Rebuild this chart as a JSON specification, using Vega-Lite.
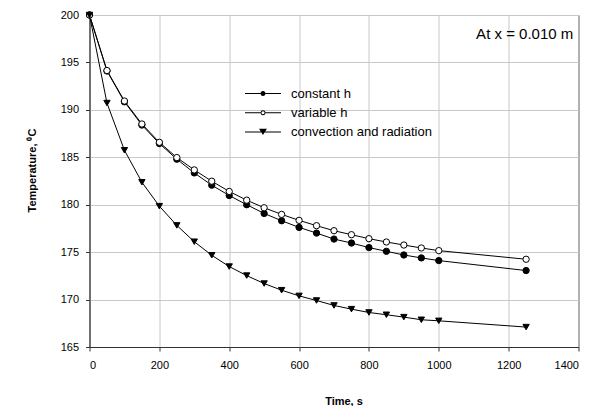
{
  "$schema": "https://vega.github.io/schema/vega-lite/v6.json",
  "width": 489,
  "height": 332,
  "autosize": {"type": "none"},
  "padding": {"left": 89.5, "top": 15, "right": 22.5, "bottom": 59},
  "background": "white",
  "config": {
    "font": "Liberation Sans",
    "view": {"stroke": "#333333", "strokeWidth": 1},
    "axis": {
      "labelFont": "Liberation Sans",
      "labelFontSize": 11,
      "labelColor": "#000000",
      "titleFont": "Liberation Sans",
      "titleFontSize": 11,
      "titleFontWeight": "bold",
      "titleColor": "#000000",
      "domainColor": "#333333",
      "tickColor": "#333333",
      "tickSize": 4,
      "gridColor": "#c8c8c8",
      "gridWidth": 1
    }
  },
  "data": {
    "values": [
      {"t": 0, "T": 200, "series": "constant h"},
      {"t": 50, "T": 194.1, "series": "constant h"},
      {"t": 100, "T": 190.85, "series": "constant h"},
      {"t": 150, "T": 188.4, "series": "constant h"},
      {"t": 200, "T": 186.45, "series": "constant h"},
      {"t": 250, "T": 184.8, "series": "constant h"},
      {"t": 300, "T": 183.35, "series": "constant h"},
      {"t": 350, "T": 182.06, "series": "constant h"},
      {"t": 400, "T": 180.97, "series": "constant h"},
      {"t": 450, "T": 180.0, "series": "constant h"},
      {"t": 500, "T": 179.08, "series": "constant h"},
      {"t": 550, "T": 178.31, "series": "constant h"},
      {"t": 600, "T": 177.61, "series": "constant h"},
      {"t": 650, "T": 177.01, "series": "constant h"},
      {"t": 700, "T": 176.38, "series": "constant h"},
      {"t": 750, "T": 175.96, "series": "constant h"},
      {"t": 800, "T": 175.48, "series": "constant h"},
      {"t": 850, "T": 175.09, "series": "constant h"},
      {"t": 900, "T": 174.7, "series": "constant h"},
      {"t": 950, "T": 174.39, "series": "constant h"},
      {"t": 1000, "T": 174.11, "series": "constant h"},
      {"t": 1250, "T": 173.06, "series": "constant h"},
      {"t": 0, "T": 200, "series": "variable h"},
      {"t": 50, "T": 194.15, "series": "variable h"},
      {"t": 100, "T": 190.93, "series": "variable h"},
      {"t": 150, "T": 188.51, "series": "variable h"},
      {"t": 200, "T": 186.58, "series": "variable h"},
      {"t": 250, "T": 184.97, "series": "variable h"},
      {"t": 300, "T": 183.67, "series": "variable h"},
      {"t": 350, "T": 182.48, "series": "variable h"},
      {"t": 400, "T": 181.4, "series": "variable h"},
      {"t": 450, "T": 180.48, "series": "variable h"},
      {"t": 500, "T": 179.68, "series": "variable h"},
      {"t": 550, "T": 178.98, "series": "variable h"},
      {"t": 600, "T": 178.35, "series": "variable h"},
      {"t": 650, "T": 177.79, "series": "variable h"},
      {"t": 700, "T": 177.26, "series": "variable h"},
      {"t": 750, "T": 176.84, "series": "variable h"},
      {"t": 800, "T": 176.42, "series": "variable h"},
      {"t": 850, "T": 176.07, "series": "variable h"},
      {"t": 900, "T": 175.75, "series": "variable h"},
      {"t": 950, "T": 175.44, "series": "variable h"},
      {"t": 1000, "T": 175.16, "series": "variable h"},
      {"t": 1250, "T": 174.25, "series": "variable h"},
      {"t": 0, "T": 200, "series": "convection and radiation"},
      {"t": 50, "T": 190.72, "series": "convection and radiation"},
      {"t": 100, "T": 185.74, "series": "convection and radiation"},
      {"t": 150, "T": 182.37, "series": "convection and radiation"},
      {"t": 200, "T": 179.85, "series": "convection and radiation"},
      {"t": 250, "T": 177.82, "series": "convection and radiation"},
      {"t": 300, "T": 176.1, "series": "convection and radiation"},
      {"t": 350, "T": 174.67, "series": "convection and radiation"},
      {"t": 400, "T": 173.48, "series": "convection and radiation"},
      {"t": 450, "T": 172.53, "series": "convection and radiation"},
      {"t": 500, "T": 171.69, "series": "convection and radiation"},
      {"t": 550, "T": 170.99, "series": "convection and radiation"},
      {"t": 600, "T": 170.39, "series": "convection and radiation"},
      {"t": 650, "T": 169.9, "series": "convection and radiation"},
      {"t": 700, "T": 169.38, "series": "convection and radiation"},
      {"t": 750, "T": 168.99, "series": "convection and radiation"},
      {"t": 800, "T": 168.64, "series": "convection and radiation"},
      {"t": 850, "T": 168.4, "series": "convection and radiation"},
      {"t": 900, "T": 168.15, "series": "convection and radiation"},
      {"t": 950, "T": 167.87, "series": "convection and radiation"},
      {"t": 1000, "T": 167.76, "series": "convection and radiation"},
      {"t": 1250, "T": 167.1, "series": "convection and radiation"}
    ]
  },
  "encoding": {
    "x": {
      "field": "t",
      "type": "quantitative",
      "scale": {"domain": [0, 1400], "nice": false},
      "axis": {
        "values": [0, 200, 400, 600, 800, 1000, 1200, 1400],
        "format": "d",
        "title": "Time, s",
        "labelPadding": 8,
        "titleY": 57,
        "titleX": 254,
        "titleAnchor": "middle",
        "titleAlign": "center",
        "titleBaseline": "alphabetic"
      }
    },
    "y": {
      "field": "T",
      "type": "quantitative",
      "scale": {"domain": [165, 200], "nice": false, "zero": false},
      "axis": {
        "values": [165, 170, 175, 180, 185, 190, 195, 200],
        "format": "d",
        "title": "Temperature, ⁰C",
        "labelPadding": 7,
        "titleX": -54,
        "titleY": 155,
        "titleAngle": 270,
        "titleAlign": "center",
        "titleBaseline": "alphabetic"
      }
    }
  },
  "resolve": {"scale": {"shape": "independent"}, "legend": {"shape": "independent"}},
  "layer": [
    {
      "mark": {"type": "line", "color": "#000000", "strokeWidth": 1},
      "encoding": {"detail": {"field": "series"}}
    },
    {
      "mark": {"type": "point", "stroke": "#000000", "strokeWidth": 1, "opacity": 1, "filled": false},
      "encoding": {
        "shape": {
          "field": "series",
          "type": "nominal",
          "scale": {
            "domain": ["constant h", "variable h", "convection and radiation"],
            "range": ["circle", "circle", "triangle-down"]
          },
          "legend": null
        },
        "fill": {
          "field": "series",
          "type": "nominal",
          "scale": {
            "domain": ["constant h", "variable h", "convection and radiation"],
            "range": ["#000000", "#ffffff", "#000000"]
          },
          "legend": null
        },
        "size": {
          "field": "series",
          "type": "nominal",
          "scale": {
            "domain": ["constant h", "variable h", "convection and radiation"],
            "range": [40, 40, 75]
          },
          "legend": null
        }
      }
    },
    {
      "transform": [{"filter": "datum.t < 0"}],
      "mark": {"type": "point", "filled": true, "fill": "#000000", "stroke": "#000000", "strokeWidth": 0, "opacity": 1, "size": 1296},
      "encoding": {
        "shape": {
          "field": "series",
          "type": "nominal",
          "scale": {
            "domain": ["constant h", "variable h", "convection and radiation"],
            "range": [
              "M-1,-0.028L-0.14,-0.028L-0.14,0.028L-1,0.028ZM0.14,-0.028L1,-0.028L1,0.028L0.14,0.028ZM0.14,0L0.121,0.07L0.07,0.121L0,0.14L-0.07,0.121L-0.121,0.07L-0.14,0L-0.121,-0.07L-0.07,-0.121L0,-0.14L0.07,-0.121L0.121,-0.07Z",
              "M-1,-0.028L-0.14,-0.028L-0.14,0.028L-1,0.028ZM0.14,-0.028L1,-0.028L1,0.028L0.14,0.028ZM0.14,0L0.121,0.07L0.07,0.121L0,0.14L-0.07,0.121L-0.121,0.07L-0.14,0L-0.121,-0.07L-0.07,-0.121L0,-0.14L0.07,-0.121L0.121,-0.07ZM0.085,0L0.0736,-0.0425L0.0425,-0.0736L0,-0.085L-0.0425,-0.0736L-0.0736,-0.0425L-0.085,0L-0.0736,0.0425L-0.0425,0.0736L0,0.085L0.0425,0.0736L0.0736,0.0425Z",
              "M-1,-0.028L1,-0.028L1,0.028L-1,0.028ZM0,0.17L-0.22,-0.17L0.22,-0.17Z"
            ]
          },
          "legend": {
            "title": null,
            "orient": "none",
            "legendX": 155.5,
            "legendY": 71,
            "padding": 0,
            "labelFont": "Liberation Sans",
            "labelFontSize": 13,
            "labelColor": "#000000",
            "labelOffset": 10,
            "symbolSize": 1296,
            "symbolFillColor": "#000000",
            "symbolStrokeWidth": 0,
            "symbolOpacity": 1,
            "clipHeight": 15,
            "rowPadding": 4.2
          }
        }
      }
    },
    {
      "transform": [{"filter": "datum.t == 0 && datum.series == 'constant h'"}],
      "mark": {"type": "text", "font": "Liberation Sans", "fontSize": 15, "align": "right", "baseline": "alphabetic", "color": "#000000"},
      "encoding": {
        "x": {"datum": 1385},
        "y": {"datum": 197.45},
        "text": {"value": "At x = 0.010 m"}
      }
    }
  ]
}
